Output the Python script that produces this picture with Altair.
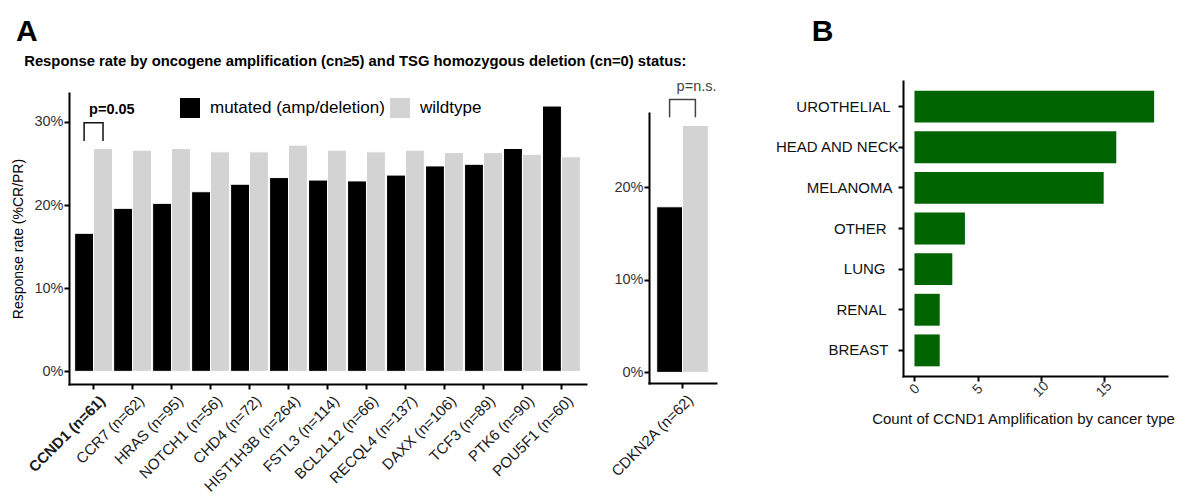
import altair as alt
import pandas as pd

FONT = "Liberation Sans"
NB = "\u00a0"
ZW = "\u200b"

# ---------------- data ----------------
genes = ["CCND1 (n=61)", "CCR7 (n=62)", "HRAS (n=95)", "NOTCH1 (n=56)", "CHD4 (n=72)",
         "HIST1H3B (n=264)", "FSTL3 (n=114)", "BCL2L12 (n=66)", "RECQL4 (n=137)",
         "DAXX (n=106)", "TCF3 (n=89)", "PTK6 (n=90)", "POU5F1 (n=60)"]
mutated_rate = [16.6, 19.6, 20.2, 21.6, 22.5, 23.3, 23.0, 22.9, 23.6, 24.7, 24.9, 26.8, 31.9]
wildtype_rate = [26.8, 26.6, 26.8, 26.4, 26.4, 27.2, 26.6, 26.4, 26.6, 26.3, 26.3, 26.1, 25.8]
status_labels = ["mutated (amp/deletion)", "wildtype"]
highlight_gene = "CCND1 (n=61)"

tsg_genes = ["CDKN2A (n=62)"]
tsg_mutated_rate = [17.9]
tsg_wildtype_rate = [26.7]

cancer_types = ["UROTHELIAL", "HEAD AND NECK", "MELANOMA", "OTHER", "LUNG", "RENAL", "BREAST"]
ccnd1_counts = [19, 16, 15, 4, 3, 2, 2]

pval_left = "p=0.05"
pval_mid = "p=n.s."
subtitle_text = "Response rate by oncogene amplification (cn\u22655) and TSG homozygous deletion (cn=0) status:"

# extra gap (px) between each cancer-type label and its tick, as in the original figure
label_gap = {"UROTHELIAL": 8, "MELANOMA": 6, "OTHER": 12, "LUNG": 13, "RENAL": 12, "BREAST": 10}


def long_df(gs, mut, wt):
    rows = []
    for g, a, b in zip(gs, mut, wt):
        rows.append({"gene": g, "status": status_labels[0], "rate": a})
        rows.append({"gene": g, "status": status_labels[1], "rate": b})
    return pd.DataFrame(rows)


def bracket_df(g, low, high):
    return pd.DataFrame({
        "gene": [g] * 4,
        "status": [status_labels[0], status_labels[0], status_labels[1], status_labels[1]],
        "rate": [low, high, high, low],
        "order": [0, 1, 2, 3],
    })


def spacer(h):
    return alt.Chart(pd.DataFrame({"s": [0]})).mark_point(size=0, opacity=0).encode(
        x=alt.value(0), y=alt.value(0)).properties(width=1, height=h)


color_scale = alt.Scale(domain=status_labels, range=["#000000", "#d3d3d3"])


def panel(gs, mut, wt, ydomain, yticks, ytitle, width, height, pval, bracket, ptext_y,
          bold_p, bracket_color, legend, label_offset, text_dx):
    df = long_df(gs, mut, wt)
    x = alt.X("gene:N", sort=gs,
              scale=alt.Scale(paddingInner=0.03, paddingOuter=0.145),
              axis=alt.Axis(title=None, labelAngle=315, labelAlign="right", labelBaseline="top",
                            labelFontSize=15, labelColor="#1a1a1a", labelPadding=4,
                            labelOffset=label_offset, labelLimit=300,
                            labelFontWeight={"condition": {"test": f"datum.value == '{highlight_gene}'",
                                                           "value": "bold"},
                                             "value": "normal"}))
    xo = alt.XOffset("status:N", sort=status_labels)
    y = alt.Y("rate:Q", scale=alt.Scale(domain=ydomain, nice=False, zero=False),
              axis=alt.Axis(values=yticks, labelExpr="datum.value + '%'", title=ytitle,
                            labelFontSize=14.5, labelColor="#333333", titleFontSize=14,
                            titleColor="#000000", titlePadding=8, labelPadding=1))
    if legend:
        leg = alt.Legend(title=None, orient="none", legendX=111, legendY=20, direction="horizontal",
                         symbolType="square", symbolSize=400, symbolStrokeWidth=0,
                         labelFontSize=17, labelColor="#000000", labelLimit=400, padding=0,
                         columnPadding=5, labelOffset=10, labelFont=FONT)
    else:
        leg = None
    bars = alt.Chart(df).mark_bar(stroke="#ffffff", strokeWidth=1).encode(
        x=x, xOffset=xo, y=y, y2=alt.datum(0),
        color=alt.Color("status:N", scale=color_scale, legend=leg),
    )
    bdf = bracket_df(gs[0], bracket[0], bracket[1])
    br = alt.Chart(bdf).mark_line(color=bracket_color, strokeWidth=1.5).encode(
        x=alt.X("gene:N", sort=gs), xOffset=alt.XOffset("status:N", sort=status_labels),
        y="rate:Q", order="order:Q")
    tdf = pd.DataFrame({"gene": [gs[0]], "status": [status_labels[0]], "rate": [ptext_y], "label": [pval]})
    tx = alt.Chart(tdf).mark_text(align="left", baseline="alphabetic", fontSize=14.5, dx=text_dx,
                                  fontWeight="bold" if bold_p else "normal",
                                  color="#000000" if bold_p else "#444444").encode(
        x=alt.X("gene:N", sort=gs), xOffset=alt.XOffset("status:N", sort=status_labels),
        y="rate:Q", text="label:N")
    return alt.layer(bars, br, tx).properties(width=width, height=height)


left = panel(genes, mutated_rate, wildtype_rate, [-1.52, 33.47], [0, 10, 20, 30],
             "Response rate (%CR/PR)", 517, 291, pval_left, (27.7, 29.9), 31.0, True, "#111111",
             True, 4, 5)
middle = panel(tsg_genes, tsg_mutated_rate, tsg_wildtype_rate, [-1.15, 28.04], [0, 10, 20],
               None, 67, 270, pval_mid, (27.57, 29.5), 30.4, False, "#444444", False, 3, 7)

left_stack = alt.vconcat(spacer(14.5), left, spacing=0)
middle_stack = alt.vconcat(spacer(1), middle, spacing=0)

inner = alt.hconcat(left_stack, middle_stack, spacing=22).resolve_scale(
    x="independent", y="independent", color="independent", xOffset="independent"
).properties(title=alt.TitleParams(
    text="A", subtitle=ZW + NB + NB + subtitle_text, anchor="start", frame="bounds",
    fontSize=30, fontWeight="bold", color="#000000", font=FONT,
    subtitleFontSize=14.8, subtitleFontWeight="bold", subtitleColor="#000000", subtitleFont=FONT,
    subtitlePadding=7, offset=9, dx=4))

gap_cond = [{"test": f"datum.value == '{k}'", "value": v} for k, v in label_gap.items()]
cdf = pd.DataFrame({"cancer": cancer_types, "count": ccnd1_counts})
right = alt.Chart(cdf).mark_bar(color="#006400").encode(
    y=alt.Y("cancer:N", sort=cancer_types, scale=alt.Scale(paddingInner=0.215, paddingOuter=0.238),
            axis=alt.Axis(title=None, labelFontSize=15, labelColor="#111111",
                          labelPadding={"condition": gap_cond, "value": 0})),
    x=alt.X("count:Q", scale=alt.Scale(domain=[-0.91, 20.02], nice=False, zero=False),
            axis=alt.Axis(values=[0, 5, 10, 15], title="Count of CCND1 Amplification by cancer type",
                          labelAngle=315, labelAlign="center", labelBaseline="middle",
                          labelFontSize=14, labelColor="#333333", labelPadding=8,
                          titleFontSize=15, titleColor="#111111", titlePadding=12,
                          titleX=120, titleAlign="center")),
    x2=alt.datum(0),
).properties(width=264, height=295)

right_stack = alt.vconcat(spacer(3), right, spacing=0).properties(title=alt.TitleParams(
    text="B", anchor="start", frame="bounds", fontSize=30, fontWeight="bold", color="#000000",
    font=FONT, offset=31, dx=37))

chart = alt.hconcat(inner, right_stack, spacing=57).resolve_scale(
    x="independent", y="independent", color="independent", xOffset="independent"
).properties(
    padding={"left": 3, "top": 9, "right": 5, "bottom": 5}
).configure_view(stroke=None).configure_axis(
    grid=False, domainColor="#000000", domainWidth=2, domainCap="square",
    tickColor="#000000", tickWidth=2, tickSize=5,
    labelFont=FONT, titleFont=FONT, titleFontWeight="normal"
).configure_text(font=FONT).configure_legend(labelFont=FONT).configure_title(font=FONT)

chart.save("out.html", embed_options={"renderer": "svg", "actions": False})
